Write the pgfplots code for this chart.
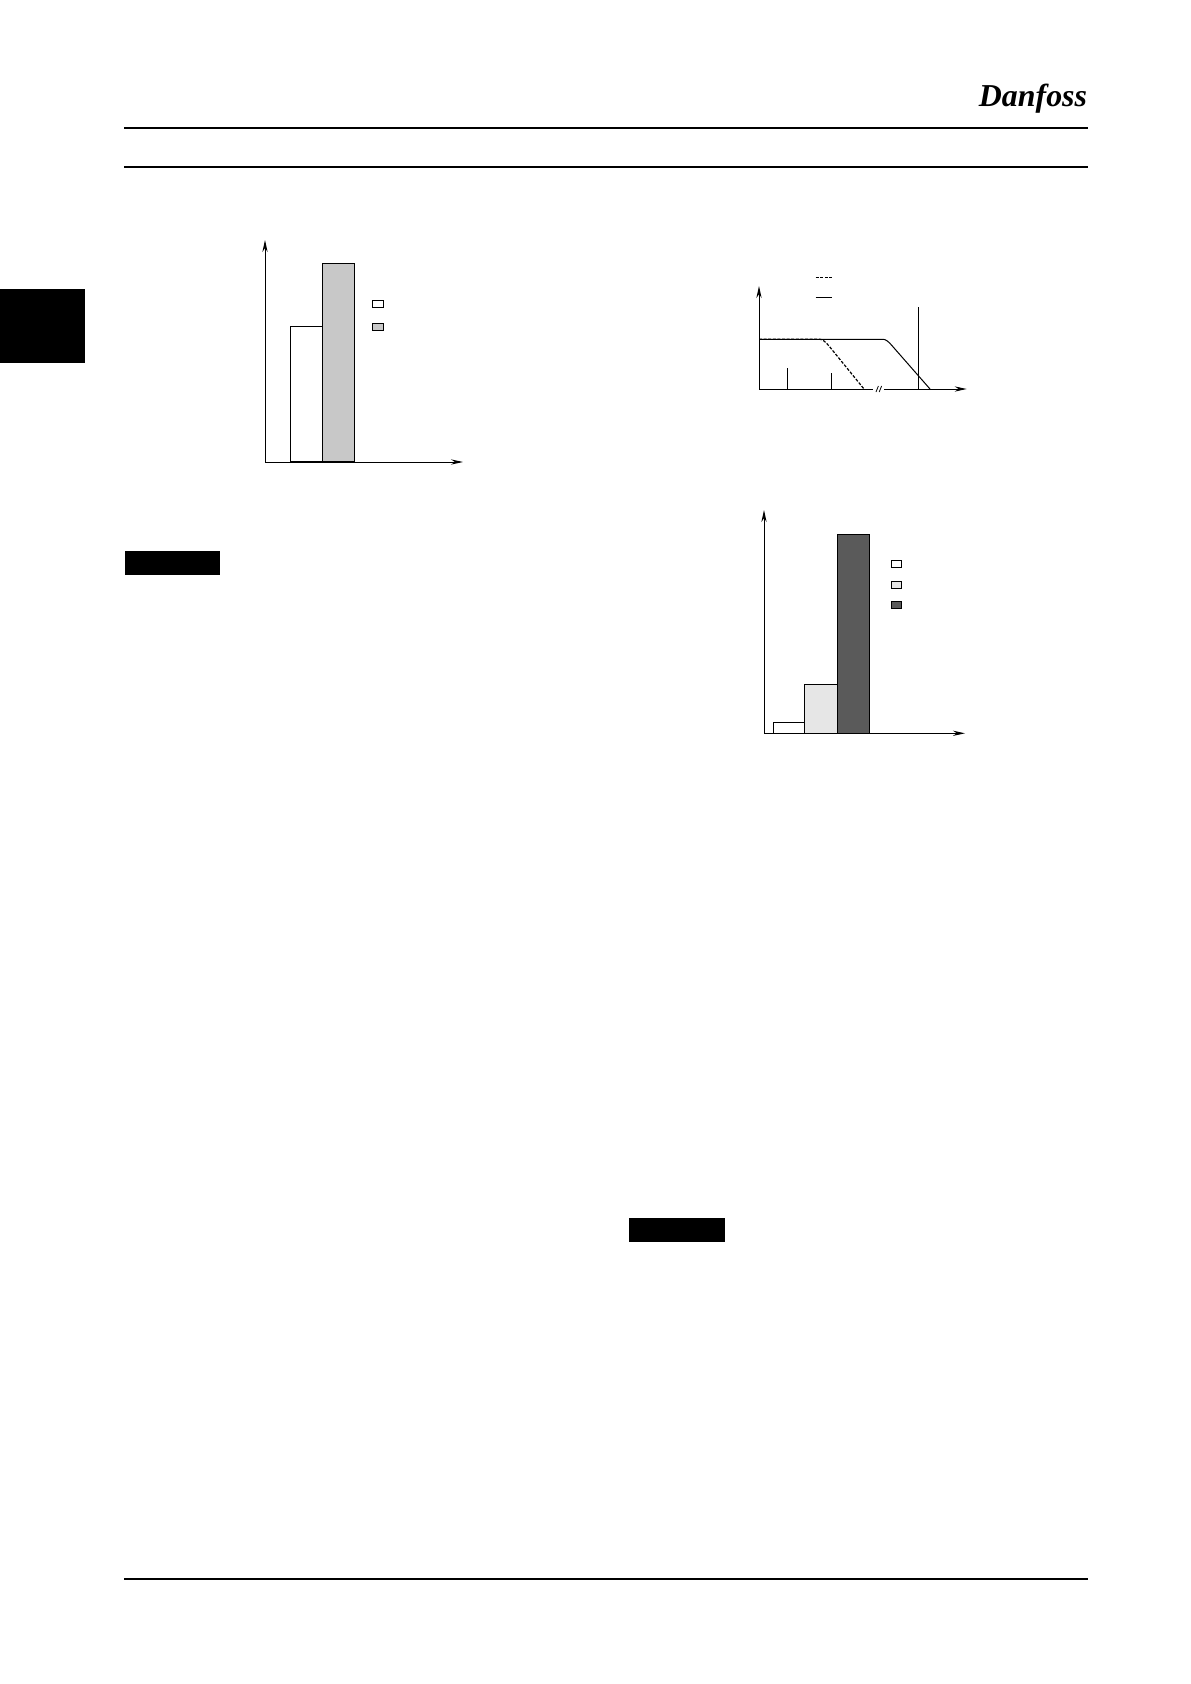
\documentclass[border=0pt]{standalone}
\usepackage{fontspec}
\newfontfamily\logofont{Liberation Serif}
\usepackage{pgfplots}
\pgfplotsset{compat=1.18}
\usetikzlibrary{arrows.meta}
\definecolor{barA}{RGB}{200,200,200}
\definecolor{barB}{RGB}{230,230,230}
\definecolor{barC}{RGB}{90,90,90}
\pgfplotsset{
  pageaxis/.style={scale only axis, anchor=south west, axis lines=left, ticks=none,
    axis line style={line width=0.5bp, -{Stealth[length=6bp,width=2.6bp]}},
    clip=false, ymin=0, xmin=0,
    legend cell align=left},
  sqkey/.style={legend image code/.code={\draw[##1, line width=0.5bp] (0bp,-1.75bp) rectangle (5.2bp,1.75bp);}},
  lnkey/.style={legend image code/.code={\draw[##1] (0bp,0bp) -- (8.35bp,0bp);}},
}
\begin{document}
\begin{tikzpicture}
\path[use as bounding box, fill=white] (0,0) rectangle (595.5bp,-842bp);
% page decorations
\fill[black] (0,-144.5bp) rectangle (42.5bp,-181.35bp);
\draw[line width=1bp] (62.15bp,-63.85bp) -- (544.15bp,-63.85bp);
\draw[line width=1bp] (62.15bp,-83.35bp) -- (544.15bp,-83.35bp);
\draw[line width=1bp] (62.15bp,-789.5bp) -- (544.15bp,-789.5bp);
\fill[black] (62.5bp,-275.5bp) rectangle (110bp,-287.35bp);
\fill[black] (314.5bp,-608.85bp) rectangle (362.5bp,-620.85bp);
\node[inner sep=0pt, anchor=center] at (516.5bp,-49.5bp) {\logofont\bfseries\itshape\fontsize{16}{16}\selectfont Danfoss};

% Chart 1
\begin{axis}[pageaxis, at={(132.5bp,-231bp)}, width=99bp, height=111bp,
  xmax=198, ymax=222,
  legend style={at={(axis cs:107.3,161.7)}, anchor=north west, draw=none, fill=none,
    inner sep=0pt, outer sep=0pt, row sep=7.3bp, nodes={inner sep=0pt, outer sep=0pt}}]
\addplot[ybar, bar width=32, bar shift=0pt, fill=white, draw=black, line width=0.6bp, sqkey]
  coordinates {(41.3,135.7)};
\addlegendentry{}
\addplot[ybar, bar width=32, bar shift=0pt, fill=barA, draw=black, line width=0.6bp, sqkey]
  coordinates {(73.3,198.7)};
\addlegendentry{}
\end{axis}

% Chart 2
\begin{axis}[pageaxis, at={(379.5bp,-194.5bp)}, width=103.85bp, height=51.5bp,
  xmax=207.7, ymax=103,
  legend style={at={(axis cs:56,113)}, anchor=north west, draw=none, fill=none,
    inner sep=0pt, outer sep=0pt, row sep=8.6bp, nodes={inner sep=0pt, outer sep=0pt}}]
\addplot[black, line width=0.6bp, dash pattern=on 1.5bp off 0.8bp, lnkey]
  coordinates {(0,49.7) (61,49.7) (63,49.2) (65,48) (67.5,45.8) (70,43) (105,0)};
\addlegendentry{}
\addplot[black, line width=0.5bp, lnkey]
  coordinates {(0,49.7) (124.3,49.7) (126.3,49.2) (128.3,48) (130.8,45.8) (133.3,43) (171,0)};
\addlegendentry{}
\addplot[ycomb, black, line width=0.6bp, no marks, forget plot]
  coordinates {(28.7,21.3) (72.3,15.7) (159.3,82.3)};
\end{axis}
% axis break mark
\fill[white] (436.6bp,-192.5bp) rectangle (442bp,-196.5bp);
\draw[line width=0.4bp] (438bp,-196bp) -- (439.2bp,-193bp);
\draw[line width=0.4bp] (439.6bp,-196bp) -- (440.8bp,-193bp);

% Chart 3
\begin{axis}[pageaxis, at={(382bp,-366.65bp)}, width=100.5bp, height=111.65bp,
  xmax=201, ymax=223.3,
  legend style={at={(axis cs:126.7,173)}, anchor=north west, draw=none, fill=none,
    inner sep=0pt, outer sep=0pt, row sep=6.1bp, nodes={inner sep=0pt, outer sep=0pt}}]
\addplot[ybar, bar width=31, bar shift=0pt, fill=white, draw=black, line width=0.6bp, sqkey]
  coordinates {(24.8,11)};
\addlegendentry{}
\addplot[ybar, bar width=33, bar shift=0pt, fill=barB, draw=black, line width=0.6bp, sqkey]
  coordinates {(56.8,49)};
\addlegendentry{}
\addplot[ybar, bar width=32, bar shift=0pt, fill=barC, draw=black, line width=0.6bp, sqkey]
  coordinates {(89.3,199)};
\addlegendentry{}
\end{axis}
\end{tikzpicture}
\end{document}
